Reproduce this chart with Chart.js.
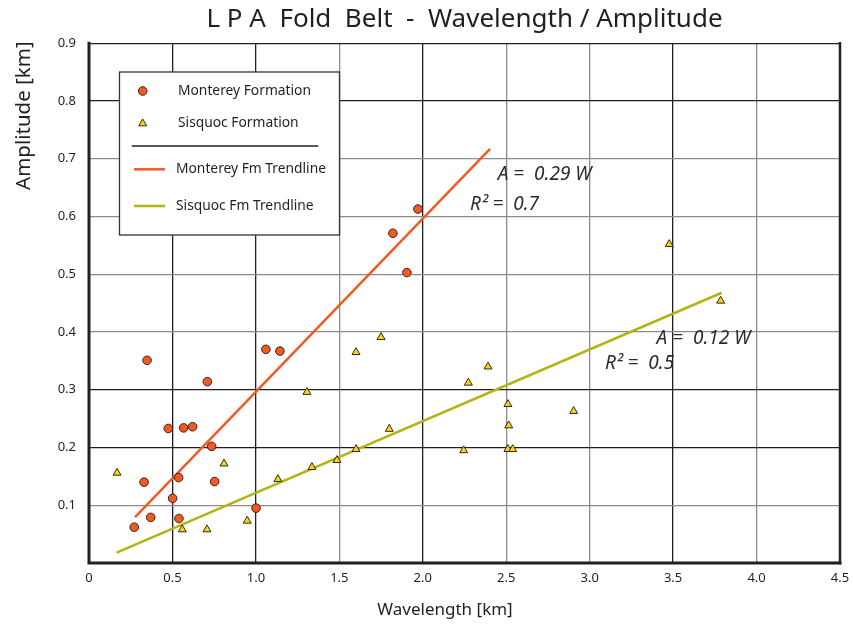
<!DOCTYPE html>
<html><head><meta charset="utf-8">
<script src="https://cdn.jsdelivr.net/npm/chart.js@4.4.1/dist/chart.umd.min.js"></script>
<style>html,body{margin:0;padding:0;background:#fff;}canvas{display:block;}</style>
</head><body>
<canvas id="c" width="853" height="628"></canvas>
<script>
// ---- data ----
const montereyX = [0.348,0.330,0.271,0.370,0.475,0.501,0.537,0.539,0.567,0.621,0.709,0.735,0.753,1.001,1.060,1.144,1.821,1.905,1.971];
const montereyY = [0.351,0.140,0.062,0.079,0.233,0.112,0.148,0.077,0.234,0.236,0.314,0.202,0.141,0.095,0.370,0.367,0.571,0.503,0.613];
const sisquocX = [0.168,0.559,0.707,0.809,0.948,1.132,1.306,1.336,1.486,1.600,1.600,1.750,1.799,2.245,2.273,2.391,2.510,2.515,2.510,2.539,2.904,3.477,3.785];
const sisquocY = [0.156,0.058,0.058,0.172,0.073,0.145,0.296,0.166,0.178,0.197,0.365,0.391,0.232,0.195,0.312,0.340,0.275,0.238,0.197,0.197,0.263,0.552,0.454];
const montereyTrendX = [0.276,2.403];
const montereyTrendY = [0.0795,0.717];
const sisquocTrendX = [0.166,3.791];
const sisquocTrendY = [0.018,0.468];
const xTickValues = [0,0.5,1,1.5,2,2.5,3,3.5,4,4.5];
const xTickLabels = ['0','0.5','1.0','1.5','2.0','2.5','3.0','3.5','4.0','4.5'];
const yTickValues = [0,0.1,0.2,0.3,0.4,0.5,0.6,0.7,0.8,0.9];
const yTickLabels = ['','0.1','0.2','0.3','0.4','0.5','0.6','0.7','0.8','0.9'];
const seriesLabels = ['Monterey Formation','Sisquoc Formation','Monterey Fm Trendline','Sisquoc Fm Trendline'];
const titleText = 'L P A  Fold  Belt  -  Wavelength / Amplitude';
const xAxisTitle = 'Wavelength [km]';
const yAxisTitle = 'Amplitude [km]';
const annotations = [
  {text:'A =  0.29 W', x:2.449, y:0.673},
  {text:'R\u00B2 =  0.7', x:2.283, y:0.620},
  {text:'A =  0.12 W', x:3.401, y:0.389},
  {text:'R\u00B2 =  0.5', x:3.092, y:0.346}
];
const xDarkGrid = [0.5,1,2,3.5];
const yDarkGrid = [0.2,0.3,0.8,0.9];

// ---- styling ----
const FONT = "'Noto Sans', 'Open Sans', sans-serif";
const INK = '#231f20';
const ORANGE = '#f15a24';
const OLIVE = '#b3b414';
const YELLOW = '#ffd400';
const DARKGRID = '#231f20';
const GRAYGRID = '#8c8c8c';

const toPts = (xs, ys) => xs.map((x,i)=>({x:x, y:ys[i]}));
const near = (arr, v) => arr.some(a => Math.abs(a - v) < 1e-6);

const framePlugin = {
  id:'frame',
  beforeDatasetsDraw(chart){
    const {ctx, chartArea:a} = chart;
    ctx.save();
    ctx.strokeStyle = INK;
    ctx.lineCap = 'square';
    ctx.lineWidth = 3;
    ctx.beginPath(); ctx.moveTo(a.left, a.top); ctx.lineTo(a.left, a.bottom); ctx.lineTo(a.right, a.bottom); ctx.stroke();
    ctx.lineWidth = 2.5;
    ctx.beginPath(); ctx.moveTo(a.right, a.top); ctx.lineTo(a.right, a.bottom); ctx.stroke();
    ctx.restore();
  }
};

const axisTitlePlugin = {
  id:'axisTitles',
  afterDraw(chart){
    const {ctx, chartArea:a} = chart;
    ctx.save();
    ctx.fillStyle = INK;
    ctx.textBaseline = 'middle';
    ctx.textAlign = 'center';
    ctx.font = '17px ' + FONT;
    ctx.fillText(xAxisTitle, a.left + 356, 610);
    ctx.font = '20.5px ' + FONT;
    ctx.translate(24, a.top - 2);
    ctx.rotate(-Math.PI/2);
    ctx.textAlign = 'right';
    ctx.fillText(yAxisTitle, 0, 0);
    ctx.restore();
  }
};

const notePlugin = {
  id:'notes',
  afterDatasetsDraw(chart){
    const {ctx, scales:{x, y}} = chart;
    ctx.save();
    ctx.fillStyle = '#2b2b2b';
    ctx.font = 'italic 19px ' + FONT;
    ctx.textAlign = 'left';
    ctx.textBaseline = 'middle';
    annotations.forEach(n => ctx.fillText(n.text, x.getPixelForValue(n.x), y.getPixelForValue(n.y)));
    ctx.restore();
  }
};

const legendPlugin = {
  id:'boxLegend',
  afterDatasetsDraw(chart){
    const ctx = chart.ctx;
    const ds = chart.data.datasets;
    ctx.save();
    ctx.fillStyle = '#fff';
    ctx.fillRect(119.5, 72, 220, 163);
    ctx.strokeStyle = '#333';
    ctx.lineWidth = 1.3;
    ctx.strokeRect(119.5, 72, 220, 163);
    ctx.font = '13.8px ' + FONT;
    ctx.textBaseline = 'middle';
    const mk = [{y:91, ds:ds[0]},{y:123.5, ds:ds[1]}];
    mk.forEach(m => {
      ctx.fillStyle = m.ds.backgroundColor; ctx.strokeStyle = m.ds.borderColor; ctx.lineWidth = 1;
      ctx.beginPath();
      const r = m.ds.pointRadius;
      if (m.ds.pointStyle === 'circle') { ctx.arc(142.7, m.y, r, 0, Math.PI*2); }
      else { for (let k=0;k<3;k++){ const ang = -Math.PI/2 + k*2*Math.PI/3; const px = 142.7 + Math.cos(ang)*r, py = m.y + Math.sin(ang)*r; k?ctx.lineTo(px,py):ctx.moveTo(px,py);} ctx.closePath(); }
      ctx.fill(); ctx.stroke();
      ctx.fillStyle = INK;
      ctx.fillText(m.ds.label, 178, m.y);
    });
    ctx.strokeStyle = INK; ctx.lineWidth = 1.3;
    ctx.beginPath(); ctx.moveTo(131.7, 146); ctx.lineTo(318.3, 146); ctx.stroke();
    const ln = [{y:169.3, ds:ds[2]},{y:206, ds:ds[3]}];
    ln.forEach(l => {
      ctx.strokeStyle = l.ds.borderColor; ctx.lineWidth = 2.5;
      ctx.beginPath(); ctx.moveTo(134, l.y); ctx.lineTo(165, l.y); ctx.stroke();
      ctx.fillStyle = INK;
      ctx.fillText(l.ds.label, 176, l.y);
    });
    ctx.restore();
  }
};

new Chart(document.getElementById('c'), {
  type:'scatter',
  data:{
    datasets:[
      {label:seriesLabels[0], data:toPts(montereyX, montereyY), pointStyle:'circle', pointRadius:4.3, backgroundColor:ORANGE, borderColor:'#3b2314', borderWidth:1, order:0},
      {label:seriesLabels[1], data:toPts(sisquocX, sisquocY), pointStyle:'triangle', pointRadius:4.6, backgroundColor:YELLOW, borderColor:'#2b2b2b', borderWidth:1, order:0},
      {label:seriesLabels[2], data:toPts(montereyTrendX, montereyTrendY), showLine:true, pointRadius:0, borderColor:ORANGE, borderWidth:2.5, fill:false, order:1},
      {label:seriesLabels[3], data:toPts(sisquocTrendX, sisquocTrendY), showLine:true, pointRadius:0, borderColor:OLIVE, borderWidth:2.5, fill:false, order:1}
    ]
  },
  options:{
    responsive:false, animation:false, devicePixelRatio:1,
    layout:{padding:{left:0, right:13, top:0, bottom:0}},
    plugins:{
      legend:{display:false}, tooltip:{enabled:false},
      title:{display:true, fullSize:false, text:titleText, color:INK, font:{family:FONT, size:26, weight:'normal'}, padding:{top:4, bottom:8.1}}
    },
    scales:{
      x:{
        type:'linear', min:0, max:4.5,
        afterBuildTicks:s=>{ s.ticks = xTickValues.map(v=>({value:v})); },
        afterFit:s=>{ s.height = 65; s.paddingRight = 0; s.paddingLeft = 0; },
        ticks:{callback:(v,i)=>xTickLabels[i], color:INK, font:{family:FONT, size:13}, padding:7, maxRotation:0, autoSkip:false},
        grid:{color:c=> near(xDarkGrid, c.tick.value) ? DARKGRID : GRAYGRID, lineWidth:1.3, drawTicks:false},
        border:{display:false}
      },
      y:{
        type:'linear', min:0, max:0.9,
        afterBuildTicks:s=>{ s.ticks = yTickValues.map(v=>({value:v})); },
        afterFit:s=>{ s.width = 89; },
        ticks:{callback:(v,i)=>yTickLabels[i], color:INK, font:{family:FONT, size:13}, padding:13, autoSkip:false},
        grid:{color:c=> near(yDarkGrid, c.tick.value) ? DARKGRID : GRAYGRID, lineWidth:1.3, drawTicks:false},
        border:{display:false}
      }
    }
  },
  plugins:[framePlugin, legendPlugin, notePlugin, axisTitlePlugin]
});
</script>
</body></html>
